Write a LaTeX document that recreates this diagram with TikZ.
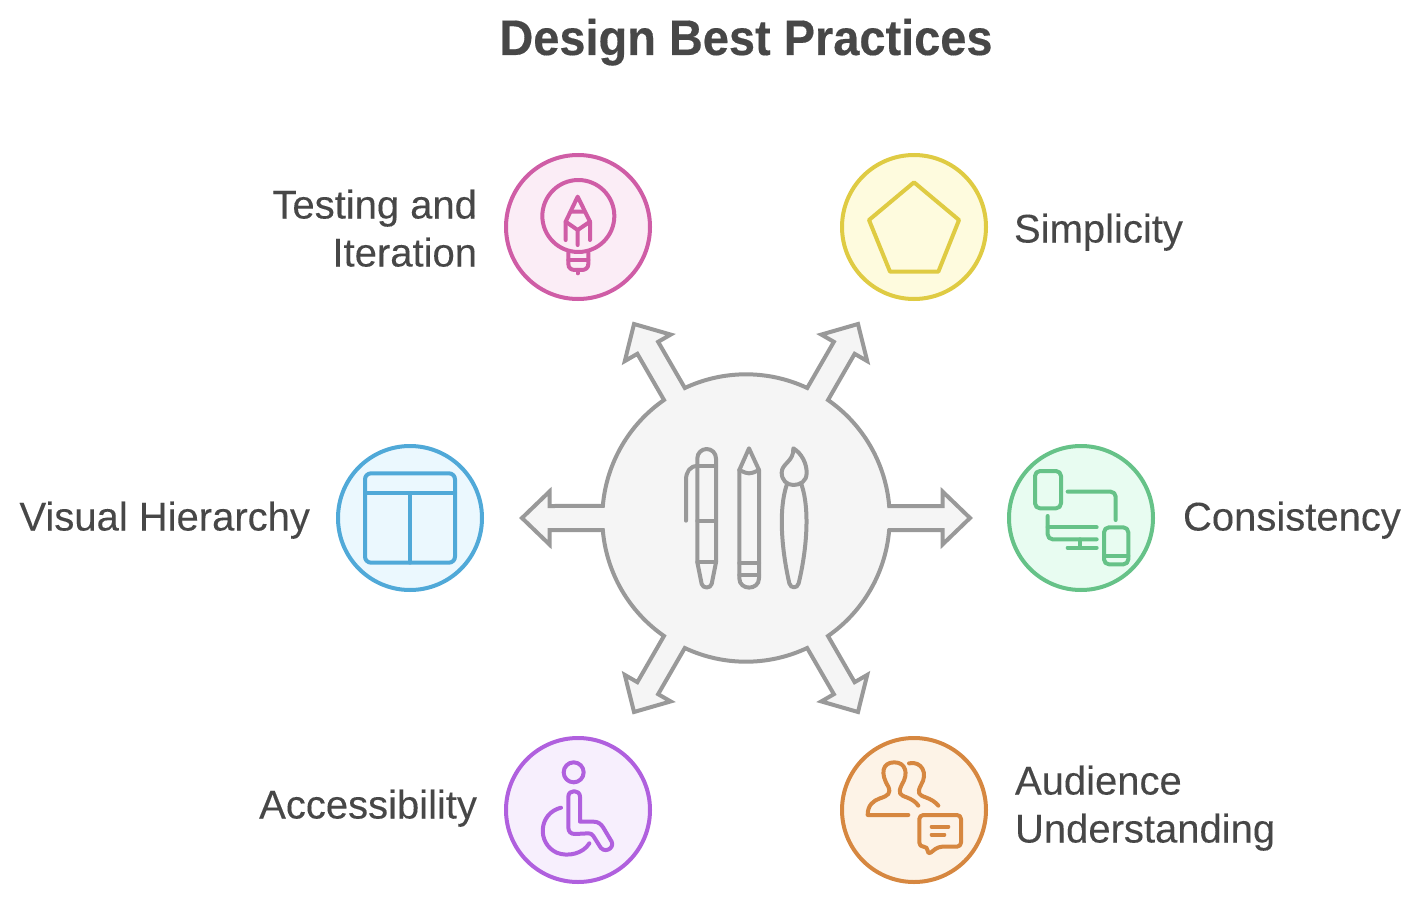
\documentclass[tikz,border=0pt]{standalone}
\usepackage{fontspec}
\setmainfont{Liberation Sans}
\newfontfamily\labelfont[FakeStretch=1.0,FakeBold=0.15]{Liberation Sans}
\newfontfamily\titlefont[FakeStretch=0.939,FakeBold=0.3]{Liberation Sans Bold}
\definecolor{ink}{HTML}{474747}
\definecolor{hubline}{HTML}{999999}
\definecolor{hubfill}{HTML}{F5F5F5}
\definecolor{pinkline}{HTML}{CF5DA6}\definecolor{pinkfill}{HTML}{FBEDF6}
\definecolor{yellowline}{HTML}{DFCB43}\definecolor{yellowfill}{HTML}{FEFBDE}
\definecolor{greenline}{HTML}{66C288}\definecolor{greenfill}{HTML}{E8FCF1}
\definecolor{blueline}{HTML}{50A9D8}\definecolor{bluefill}{HTML}{EBF8FE}
\definecolor{purpleline}{HTML}{B060DE}\definecolor{purplefill}{HTML}{F7EFFD}
\definecolor{orangeline}{HTML}{D68740}\definecolor{orangefill}{HTML}{FDF3E7}
\tikzset{
  topic/.style 2 args={circle,draw=#1,fill=#2,line width=4pt,minimum size=144pt,inner sep=0pt,outer sep=0pt},
  glyph/.style={line width=4pt,line cap=round,line join=round,fill=none},
  lab/.style={text=ink,font=\labelfont\fontsize{40}{48}\selectfont,inner sep=0pt,outer sep=0pt},
  ttl/.style={text=ink,font=\titlefont\fontsize{50}{58}\selectfont,inner sep=0pt,outer sep=0pt},
  zoomed/.style 2 args={shift={(#1,#2)},x=0.33333pt,y=-0.33333pt}
}
\begin{document}
\begin{tikzpicture}[x=1pt,y=-1pt]
\useasboundingbox (0,0) rectangle (1425,907);
\fill[white] (0,0) rectangle (1425,907);
\node[ttl,anchor=base] (title) at (746,55) {Design Best Practices};

% hub with its six arms, one outline
\begin{scope}[shift={(746,518)},y=1pt]
\draw[draw=hubline,fill=hubfill,line width=4pt,line join=miter]
  (-4.8:143.7)
  foreach \a in {0,60,120,180,240,300} {
    -- ([rotate=\a]196.5,-12) -- ([rotate=\a]196.5,-26.5) -- ([rotate=\a]224,0)
    -- ([rotate=\a]196.5,26.5) -- ([rotate=\a]196.5,12) -- ([rotate=\a]143.2,12)
    arc[start angle=\a+4.8,end angle=\a+55.2,radius=143.7]
  } -- cycle;
\end{scope}
\node[circle,minimum size=280pt,inner sep=0pt] (hub) at (746,518) {};

% hub icons
\begin{scope}[zoomed={590}{310},glyph,draw=hubline]
  % pen
  \draw (322,445) arc[start angle=180,end angle=0,x radius=28,y radius=-28] -- (378,757) -- (365,822)
    .. controls (361,836) and (339,836) .. (335,822) -- (322,757) -- cycle;
  \draw (322,468) -- (378,468) (322,632) -- (378,632) (322,757) -- (378,757);
  \draw (288,632) -- (288,510) .. controls (288,485) and (300,468) .. (322,468);
  % pencil
  \draw (477,415) -- (507,480) -- (507,805) .. controls (507,842) and (448,842) .. (448,805) -- (448,480) -- cycle;
  \draw (448,480) .. controls (465,488) and (470,490) .. (477,490) .. controls (485,490) and (490,488) .. (507,480);
  \draw (448,760) -- (507,760) (448,795) -- (507,795);
  % brush
  \draw (610,415) .. controls (635,430) and (650,460) .. (650,488)
     .. controls (650,515) and (630,525) .. (610,525)
     .. controls (590,525) and (575,510) .. (575,488)
     .. controls (575,460) and (612,455) .. (610,415) -- cycle;
  \draw (590,525) .. controls (565,600) and (575,720) .. (598,820)
     .. controls (602,836) and (622,836) .. (626,820)
     .. controls (650,720) and (660,600) .. (635,525);
\end{scope}

% topics
\node[topic={pinkline}{pinkfill}] (testing) at (578,227) {};
\node[topic={yellowline}{yellowfill}] (simplicity) at (914,227) {};
\node[topic={greenline}{greenfill}] (consistency) at (1081,518) {};
\node[topic={blueline}{bluefill}] (visual) at (410,518) {};
\node[topic={purpleline}{purplefill}] (access) at (578,810) {};
\node[topic={orangeline}{orangefill}] (audience) at (914,810) {};

% testing icon
\begin{scope}[zoomed={500}{150},glyph,draw=pinkline]
  \draw (235,198) circle[radius=108];
  \draw (205,308) -- (205,342) .. controls (205,355) and (215,360) .. (225,360) -- (245,360) .. controls (255,360) and (265,355) .. (265,342) -- (265,308);
  \draw (205,330) -- (265,330) (233,360) -- (233,370);
  \draw (197,270) -- (197,215) -- (233,140) -- (270,215) -- (270,270);
  \draw (197,215) -- (233,240) -- (270,215) (233,240) -- (233,285) (215,185) -- (252,185);
\end{scope}
% simplicity icon
\begin{scope}[zoomed={835}{150},glyph,draw=yellowline]
  \draw (237,97) -- (372,210) -- (310,365) -- (165,365) -- (102,210) -- cycle;
\end{scope}
% consistency icon
\begin{scope}[zoomed={1000}{440},glyph,draw=greenline]
  \draw[rounded corners=5pt] (105,93) rectangle (183,205);
  \draw[rounded corners=5pt] (203,155) -- (347,155) -- (347,240);
  \draw[rounded corners=5pt] (143,228) -- (143,298) -- (290,298);
  \draw (143,262) -- (290,262) (240,298) -- (240,323) (203,323) -- (290,323);
  \draw[rounded corners=5pt] (312,262) rectangle (385,373);
  \draw (312,347) -- (385,347);
\end{scope}
% visual icon
\begin{scope}[zoomed={330}{440},glyph,draw=blueline]
  \draw[rounded corners=6pt] (105,100) rectangle (375,368);
  \draw (105,160) -- (375,160) (240,160) -- (240,368);
\end{scope}
% accessibility icon
\begin{scope}[zoomed={500}{730},glyph,draw=purpleline]
  \draw (221,127) circle[radius=30];
  \draw (205,200) .. controls (205,178) and (240,178) .. (240,200) -- (240,275) -- (280,275)
     .. controls (295,275) and (303,282) .. (310,293) -- (335,335)
     .. controls (345,355) and (310,375) .. (297,345) -- (280,318)
     .. controls (276,312) and (272,310) .. (265,310) -- (225,312)
     .. controls (212,312) and (205,305) .. (205,292) -- cycle;
  \draw (183,233) .. controls (115,250) and (110,340) .. (170,368) .. controls (205,382) and (250,370) .. (268,340);
\end{scope}
% audience icon
\begin{scope}[zoomed={835}{730},glyph,draw=orangeline]
  \draw (220,255) -- (98,255) .. controls (98,225) and (115,212) .. (135,205) .. controls (160,197) and (168,190) .. (160,170)
     .. controls (135,130) and (142,97) .. (178,97) .. controls (212,97) and (222,130) .. (200,165)
     .. controls (188,190) and (195,195) .. (215,202) .. controls (230,208) and (242,215) .. (250,227);
  \draw (222,100) .. controls (260,92) and (280,130) .. (258,165) .. controls (245,190) and (252,195) .. (272,202) .. controls (288,208) and (300,215) .. (310,227);
  \draw[rounded corners=4pt] (253,255) -- (378,255) -- (378,350) -- (310,350) -- (278,375) -- (278,350) -- (253,350) -- cycle;
  \draw (290,290) -- (340,290) (290,314) -- (328,314);
\end{scope}

% labels
\node[lab,anchor=base east] (l1a) at (477,218.5) {Testing and};
\node[lab,anchor=base east] (l1b) at (477,266.5) {Iteration};
\node[lab,anchor=base west] (l2) at (1014,242.5) {Simplicity};
\node[lab,anchor=base west] (l3) at (1183,530.5) {Consistency};
\node[lab,anchor=base east] (l4) at (310,530.5) {Visual Hierarchy};
\node[lab,anchor=base east] (l5) at (477,818.5) {Accessibility};
\node[lab,anchor=base west] (l6a) at (1015,794.5) {Audience};
\node[lab,anchor=base west] (l6b) at (1015,842.5) {Understanding};
\end{tikzpicture}
\end{document}
